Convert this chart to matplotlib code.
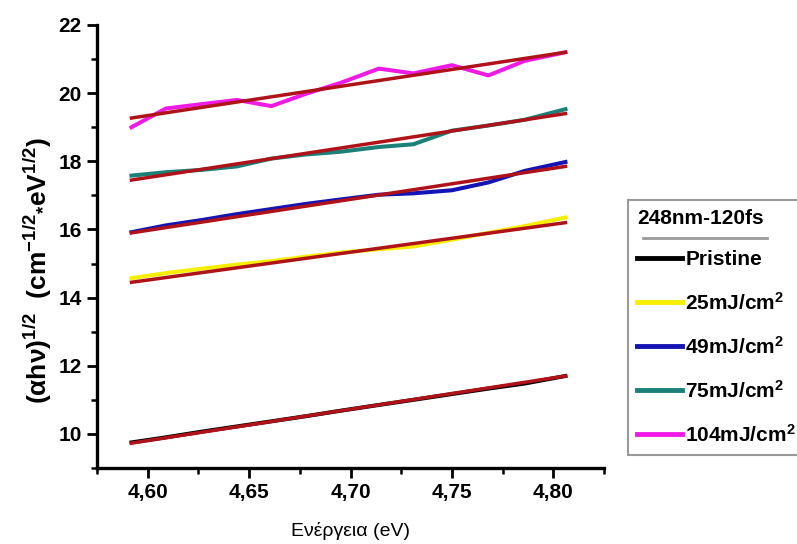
import numpy as np
import matplotlib
matplotlib.use("Agg")
import matplotlib.pyplot as plt
from matplotlib.ticker import FuncFormatter, MultipleLocator
from matplotlib.lines import Line2D

plt.rcParams['font.family'] = ['Liberation Sans', 'DejaVu Sans']
plt.rcParams['mathtext.fontset'] = 'custom'
plt.rcParams['mathtext.rm'] = 'Liberation Sans'
plt.rcParams['mathtext.bf'] = 'Liberation Sans:bold'
plt.rcParams['mathtext.default'] = 'bf'

# photon energy (eV)
energy = [4.592, 4.609, 4.627, 4.644, 4.661, 4.678, 4.695,
          4.714, 4.731, 4.750, 4.768, 4.786, 4.806]

# Tauc plot values (ahv)^1/2 for each fluence
pristine = [9.75, 9.90, 10.07, 10.22, 10.37, 10.52, 10.68,
            10.85, 11.00, 11.17, 11.33, 11.48, 11.70]
f25 = [14.57, 14.72, 14.85, 14.97, 15.07, 15.20, 15.32,
       15.42, 15.50, 15.70, 15.90, 16.10, 16.35]
f49 = [15.92, 16.12, 16.28, 16.45, 16.60, 16.75, 16.88,
       17.02, 17.06, 17.15, 17.38, 17.72, 17.98]
f75 = [17.58, 17.68, 17.75, 17.85, 18.08, 18.20, 18.28,
       18.42, 18.50, 18.90, 19.05, 19.22, 19.53]
f104 = [19.00, 19.55, 19.68, 19.80, 19.62, 19.98, 20.30,
        20.72, 20.58, 20.82, 20.52, 20.95, 21.20]

series = [pristine, f25, f49, f75, f104]
labels = ['Pristine', '25mJ/cm$^2$', '49mJ/cm$^2$', '75mJ/cm$^2$', '104mJ/cm$^2$']
colors = ['#000000', '#f8ee00', '#1414b4', '#1a8078', '#f01ae6']

# linear fits: value at first and last energy
fit_start = [9.73, 14.45, 15.90, 17.45, 19.27]
fit_end = [11.70, 16.20, 17.85, 19.40, 21.20]
fit_color = '#b01219'

fig = plt.figure(figsize=(7.97, 5.44), dpi=100)
ax = fig.add_axes([97 / 797, 1 - 468 / 544, 507 / 797, 443 / 544])

for y, lab, c in zip(series, labels, colors):
    ax.plot(energy, y, color=c, lw=2.9, label=lab)
for a, b in zip(fit_start, fit_end):
    ax.plot([energy[0], energy[-1]], [a, b], color=fit_color, lw=2.5)

ax.set_xlim(4.575, 4.825)
ax.set_ylim(9, 22)
ax.xaxis.set_major_locator(MultipleLocator(0.05))
ax.xaxis.set_minor_locator(MultipleLocator(0.025))
ax.yaxis.set_major_locator(MultipleLocator(2))
ax.yaxis.set_minor_locator(MultipleLocator(1))
ax.xaxis.set_major_formatter(FuncFormatter(lambda v, p: f'{v:.2f}'.replace('.', ',')))
ax.yaxis.set_major_formatter(FuncFormatter(lambda v, p: f'{v:.0f}'))

for s in ['top', 'right']:
    ax.spines[s].set_visible(False)
for s in ['left', 'bottom']:
    ax.spines[s].set_linewidth(2.4)
ax.tick_params(which='major', length=7, width=2, labelsize=15, pad=4)
ax.tick_params(which='minor', length=4, width=1.8)
for t in ax.get_xticklabels() + ax.get_yticklabels():
    t.set_fontweight('bold')

ax.set_xlabel('Ενέργεια (eV)', fontsize=14, labelpad=14)
ax.set_ylabel('(αhν)$^{1/2}$  (cm$^{-1/2}$$_{*}$eV$^{1/2}$)', fontsize=19,
              fontweight='bold')
ax.yaxis.set_label_coords(-0.085, 0.445)

leg = ax.legend(loc='upper left', bbox_to_anchor=(628 / 797, 1 - 200 / 544),
                bbox_transform=fig.transFigure, title='248nm-120fs',
                prop={'weight': 'bold', 'size': 15},
                title_fontproperties={'weight': 'bold', 'size': 15},
                alignment='left', frameon=True, fancybox=False,
                edgecolor='#808080', handlelength=2.15, handletextpad=0.15,
                labelspacing=1.06, borderpad=0.45, borderaxespad=0)
leg.get_frame().set_linewidth(1.5)
for h in leg.legend_handles:
    h.set_linewidth(3.5)

# rule under the legend title
fig.add_artist(Line2D([643 / 797, 767 / 797], [1 - 238 / 544, 1 - 238 / 544],
                      transform=fig.transFigure, color='#999999', lw=2))

fig.savefig('out.png', dpi=100)
